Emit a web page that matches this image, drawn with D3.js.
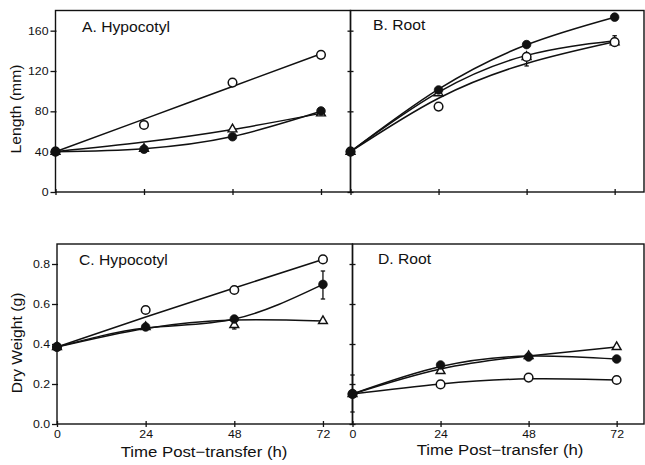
<!DOCTYPE html>
<html><head><meta charset="utf-8">
<script src="https://cdn.jsdelivr.net/npm/d3@7"></script>
<style>
html,body{margin:0;padding:0;background:#fff;}
svg{display:block;font-family:"Liberation Sans",Arial,Helvetica,sans-serif;}
</style></head>
<body><svg id="c" width="645" height="465"></svg>
<script>
// ---------- data ----------
const hours = [0, 24, 48, 72];
const xTickLabels = ["0", "24", "48", "72"];
const lengthTicks = [0, 40, 80, 120, 160];
const weightTicks = [0.0, 0.2, 0.4, 0.6, 0.8];
const panelTitles = ["A. Hypocotyl", "B. Root", "C. Hypocotyl", "D. Root"];
const yTitles = ["Length (mm)", "Dry Weight (g)"];
const xTitle = "Time Post\u2212transfer (h)";

// Panel A – hypocotyl length (mm)
const aOpen   = [40, 66.5, 108.5, 136];
const aFilled = [40, 42.4, 54.8, 80.4];
const aTri    = [40, 43, 62.2, 78];
const aOpenFit   = [40, 72.3, 104.7, 137];
const aFilledFit = [40, 43, 55, 80];
const aTriFit    = [40, 49.5, 62, 78];

// Panel B – root length (mm)
const bOpen   = [40, 84.7, 134, 148.6];
const bFilled = [40, 101.2, 146.2, 173.4];
const bTri    = [40, 98, 134, 148.6];
const bOpenFit   = [40, 93, 127.5, 149];
const bFilledFit = [40, 102, 146, 173.4];
const bTriFit    = [40, 99, 135.5, 150];

// Panel C – hypocotyl dry weight (g)
const cOpen   = [0.385, 0.57, 0.67, 0.823];
const cFilled = [0.385, 0.485, 0.525, 0.698];
const cTri    = [0.385, 0.485, 0.495, 0.515];
const cOpenFit   = [0.385, 0.535, 0.68, 0.823];
const cFilledFit = [0.385, 0.48, 0.525, 0.698];
const cTriFit    = [0.385, 0.478, 0.52, 0.515];

// Panel D – root dry weight (g)
const dOpen   = [0.15, 0.198, 0.232, 0.22];
const dFilled = [0.15, 0.295, 0.335, 0.325];
const dTri    = [0.15, 0.265, 0.34, 0.385];
const dOpenFit   = [0.15, 0.2, 0.226, 0.22];
const dFilledFit = [0.15, 0.287, 0.34, 0.325];
const dTriFit    = [0.15, 0.275, 0.34, 0.385];

// error bars: [panel, hour, low, high]
const errorBars = [
  ["B", 48, 125, 134],
  ["B", 72, 148.6, 155],
  ["C", 72, 0.625, 0.765],
  ["C", 48, 0.475, 0.495],
  ["D", 0, 0.06, 0.245]
];

// ---------- layout ----------
const svg = d3.select("#c");
const ink = "#111";
const FONT = "'Liberation Sans',Arial,Helvetica,sans-serif";
const SX = 1.12; // horizontal stretch of the lettering

const topY = d3.scaleLinear().domain([0, 180]).range([192, 10.5]);
const botY = d3.scaleLinear().domain([0, 0.9]).range([424, 244]);
const panels = {
  A: {x: d3.scaleLinear().domain([0, 80]).range([55.5, 350.5]), y: topY, ticks: lengthTicks, fmt: d3.format("d"),
      open: aOpen, filled: aFilled, tri: aTri, openFit: aOpenFit, filledFit: aFilledFit, triFit: aTriFit,
      title: panelTitles[0], tx: 82, ty: 32, left: true, xlabels: false},
  B: {x: d3.scaleLinear().domain([0, 80]).range([350.5, 644]), y: topY, ticks: lengthTicks, fmt: d3.format("d"),
      open: bOpen, filled: bFilled, tri: bTri, openFit: bOpenFit, filledFit: bFilledFit, triFit: bTriFit,
      title: panelTitles[1], tx: 373, ty: 30, left: false, xlabels: false},
  C: {x: d3.scaleLinear().domain([0, 80]).range([57, 352.5]), y: botY, ticks: weightTicks, fmt: d3.format(".1f"),
      open: cOpen, filled: cFilled, tri: cTri, openFit: cOpenFit, filledFit: cFilledFit, triFit: cTriFit,
      title: panelTitles[2], tx: 79, ty: 265, left: true, xlabels: true},
  D: {x: d3.scaleLinear().domain([0, 80]).range([352.5, 646]), y: botY, ticks: weightTicks, fmt: d3.format(".1f"),
      open: dOpen, filled: dFilled, tri: dTri, openFit: dOpenFit, filledFit: dFilledFit, triFit: dTriFit,
      title: panelTitles[3], tx: 378, ty: 264, left: false, xlabels: true}
};

Object.entries(panels).forEach(([key, p]) => {
  const g = svg.append("g");
  const [x0, x1] = p.x.range();
  const [y0, y1] = p.y.range();
  // frame
  g.append("rect").attr("x", x0).attr("y", y1).attr("width", Math.min(x1, 644) - x0).attr("height", y0 - y1)
    .attr("fill", "none").attr("stroke", ink).attr("stroke-width", 1.4);
  // y axis
  const ya = d3.axisLeft(p.y).tickValues(p.ticks).tickSizeInner(p.left ? 5 : 3).tickSizeOuter(0)
    .tickFormat(p.left ? p.fmt : "");
  const yg = g.append("g").attr("transform", `translate(${x0},0)`).call(ya);
  yg.select(".domain").remove();
  yg.selectAll(".tick line").attr("stroke", ink).attr("stroke-width", 1.3).attr("x2", p.left ? -5 : -3).attr("x1", p.left ? 1 : 3);
  yg.selectAll(".tick text").attr("x", -7 / SX).attr("font-size", 11).attr("fill", ink)
    .attr("font-family", FONT).attr("transform", `scale(${SX},1)`);
  // x axis
  const xa = d3.axisBottom(p.x).tickValues(hours).tickSizeOuter(0)
    .tickFormat((d, i) => p.xlabels ? xTickLabels[i] : "");
  const xg = g.append("g").attr("transform", `translate(0,${y0})`).call(xa);
  xg.select(".domain").remove();
  xg.selectAll(".tick line").attr("stroke", ink).attr("stroke-width", 1.3).attr("y1", -3).attr("y2", 3);
  xg.selectAll(".tick text").attr("y", 6.5).attr("font-size", 11).attr("fill", ink)
    .attr("font-family", FONT).attr("transform", `scale(${SX},1)`);
  // title
  g.append("text").attr("transform", `translate(${p.tx},${p.ty}) scale(${SX},1)`)
    .attr("font-size", 14).attr("fill", ink).text(p.title);

  // fitted curves
  const line = d3.line().x((d, i) => p.x(hours[i])).y(d => p.y(d)).curve(d3.curveNatural);
  [p.openFit, p.triFit, p.filledFit].forEach(arr => {
    g.append("path").attr("d", line(arr)).attr("fill", "none").attr("stroke", ink).attr("stroke-width", 1.5);
  });
  // error bars
  errorBars.filter(e => e[0] === key).forEach(e => {
    const ex = p.x(e[1]);
    const eg = g.append("g").attr("stroke", ink).attr("stroke-width", 1.3);
    eg.append("line").attr("x1", ex).attr("x2", ex).attr("y1", p.y(e[2])).attr("y2", p.y(e[3]));
    [e[2], e[3]].forEach(v => eg.append("line").attr("x1", ex - 2.2).attr("x2", ex + 2.2).attr("y1", p.y(v)).attr("y2", p.y(v)));
  });
  // markers
  const tri = d3.symbol().type(d3.symbolTriangle).size(34);
  g.selectAll(null).data(p.tri).join("path")
    .attr("d", tri).attr("transform", (d, i) => `translate(${p.x(hours[i])},${p.y(d)})`)
    .attr("fill", "#fff").attr("stroke", ink).attr("stroke-width", 1.4);
  g.selectAll(null).data(p.open).join("circle")
    .attr("cx", (d, i) => p.x(hours[i])).attr("cy", d => p.y(d)).attr("r", 4.3)
    .attr("fill", "#fff").attr("stroke", ink).attr("stroke-width", 1.5);
  g.selectAll(null).data(p.filled).join("circle")
    .attr("cx", (d, i) => p.x(hours[i])).attr("cy", d => p.y(d)).attr("r", 4.3)
    .attr("fill", ink).attr("stroke", ink).attr("stroke-width", 0.8);
});

// axis titles
svg.append("text").attr("transform", `translate(21,109) rotate(-90) scale(${SX},1)`).attr("text-anchor", "middle")
  .attr("font-size", 14).attr("fill", ink).text(yTitles[0]);
svg.append("text").attr("transform", `translate(21.5,343) rotate(-90) scale(${SX},1)`).attr("text-anchor", "middle")
  .attr("font-size", 14).attr("fill", ink).text(yTitles[1]);
svg.append("text").attr("transform", `translate(204,457) scale(${SX},1)`).attr("text-anchor", "middle")
  .attr("font-size", 15).attr("fill", ink).text(xTitle);
svg.append("text").attr("transform", `translate(500,455) scale(${SX},1)`).attr("text-anchor", "middle")
  .attr("font-size", 15).attr("fill", ink).text(xTitle);
</script></body></html>
